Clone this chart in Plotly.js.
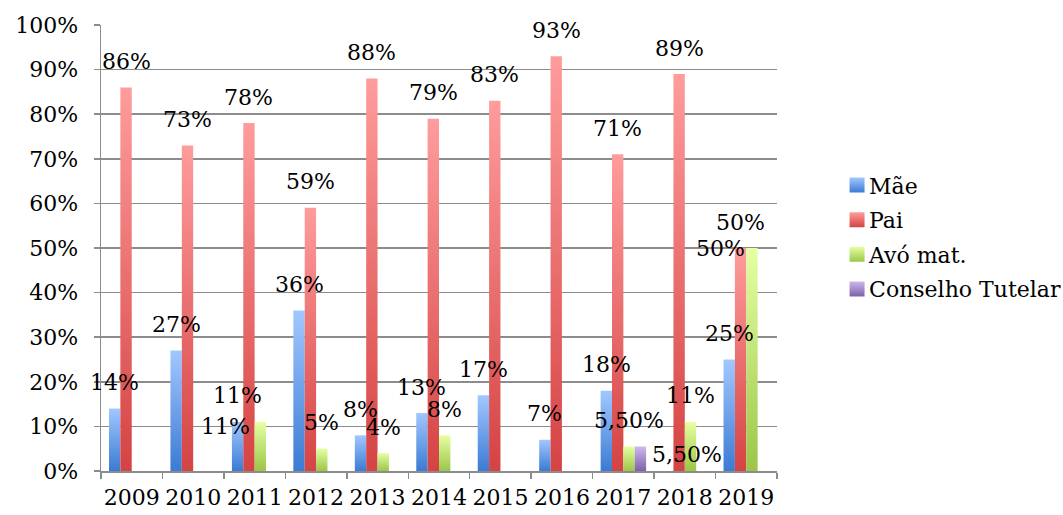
<!DOCTYPE html>
<html>
<head>
<meta charset="utf-8">
<script src="https://cdn.plot.ly/plotly-3.0.1.min.js"></script>
<style>
  html, body { margin: 0; padding: 0; background: #ffffff; }
  #chart { width: 1063px; height: 515px; }
</style>
</head>
<body>
<div id="chart"></div>
<script>
// ---- data ----
const years = ['2009','2010','2011','2012','2013','2014','2015','2016','2017','2018','2019'];
const mae = [14, 27, 11, 36, 8, 13, 17, 7, 18, null, 25];
const pai = [86, 73, 78, 59, 88, 79, 83, 93, 71, 89, 50];
const avoMat = [null, null, 11, 5, 4, 8, null, null, 5.5, 11, 50];
const conselhoTutelar = [null, null, null, null, null, null, null, null, 5.5, null, null];
const seriesNames = ['Mãe', 'Pai', 'Avó mat.', 'Conselho Tutelar'];
const seriesValues = [mae, pai, avoMat, conselhoTutelar];

// ---- styling ----
const FONT = 'DejaVu Serif, Liberation Serif, serif';
const FS = 22;
const baseColors = ['#6A9BE8', '#E46A6A', '#C2E07A', '#A68BCB'];
const gradStops = [
  ['#A2C7FF', '#3B7BD3'],
  ['#FF9C9C', '#D54343'],
  ['#E6FFA3', '#9BC648'],
  ['#CDB9EC', '#7D60A9']
];
const BARGAP = 0.26;
// label offsets in pixels [dx, dy] (default: centred, 26px above bar top)
const labelShift = {
  'Avó mat.|2011': [-35, -5],
  'Conselho Tutelar|2017': [47, -8],
  'Avó mat.|2019': [-31, 0]
};

function fmt(v) {
  return (Number.isInteger(v) ? String(v) : v.toFixed(2).replace('.', ',')) + '%';
}

const traces = seriesNames.map((name, s) => ({
  type: 'bar',
  name: name,
  legendgroup: 'g' + s,
  x: years,
  y: seriesValues[s],
  marker: { color: baseColors[s], line: { width: 0 } },
  hoverinfo: 'x+y+name'
}));

const annotations = [];
const slotW = (1 - BARGAP) / seriesNames.length;
seriesNames.forEach((name, s) => {
  seriesValues[s].forEach((v, i) => {
    if (v === null || v === undefined) return;
    const off = -(1 - BARGAP) / 2 + (s + 0.5) * slotW;
    const sh = labelShift[name + '|' + years[i]] || [0, 26];
    annotations.push({
      x: i + off, y: v, xref: 'x', yref: 'y',
      text: fmt(v), showarrow: false,
      xanchor: 'center', yanchor: 'middle',
      xshift: sh[0], yshift: sh[1],
      font: { family: FONT, size: FS, color: '#000000' }
    });
  });
});

const layout = {
  width: 1063, height: 515,
  margin: { l: 101, r: 286, t: 25, b: 44, autoexpand: false },
  paper_bgcolor: '#ffffff', plot_bgcolor: '#ffffff',
  barmode: 'group', bargap: BARGAP, bargroupgap: 0,
  font: { family: FONT, size: FS, color: '#000000' },
  showlegend: true,
  legend: {
    x: 1.077, xanchor: 'left', y: 0.524, yanchor: 'middle',
    font: { family: FONT, size: FS, color: '#000000' },
    bgcolor: 'rgba(0,0,0,0)', borderwidth: 0,
    traceorder: 'grouped', tracegroupgap: 3, itemclick: false
  },
  xaxis: {
    type: 'category',
    range: [-0.5, years.length - 0.5], autorange: false,
    showgrid: false, zeroline: false,
    showline: true, linecolor: '#8c8c8c', linewidth: 1.5,
    ticks: 'outside', tickson: 'boundaries', ticklen: 6, tickcolor: '#8c8c8c', tickwidth: 1.5,
    tickangle: 0,
    tickfont: { family: FONT, size: FS, color: '#000000' },
    ticklabelstandoff: 6,
    automargin: false,
    fixedrange: true
  },
  yaxis: {
    range: [0, 100], autorange: false, dtick: 10, tick0: 0, ticksuffix: '%',
    showgrid: true, gridcolor: '#8c8c8c', gridwidth: 1.5,
    zeroline: false,
    showline: true, linecolor: '#8c8c8c', linewidth: 1.5,
    ticks: 'outside', ticklen: 6, tickcolor: '#8c8c8c', tickwidth: 1.5,
    tickfont: { family: FONT, size: FS, color: '#000000' },
    ticklabelstandoff: 11,
    automargin: false,
    fixedrange: true
  },
  annotations: annotations
};

Plotly.newPlot('chart', traces, layout, { staticPlot: true, displayModeBar: false }).then(gd => {
  // vertical gradient fills, like the original spreadsheet chart
  const svg = gd.querySelector('.main-svg');
  let defs = svg.querySelector('defs');
  const NS = 'http://www.w3.org/2000/svg';
  if (!defs) { defs = document.createElementNS(NS, 'defs'); svg.insertBefore(defs, svg.firstChild); }
  gradStops.forEach((st, s) => {
    const g = document.createElementNS(NS, 'linearGradient');
    g.setAttribute('id', 'barGrad' + s);
    g.setAttribute('x1', '0'); g.setAttribute('y1', '0');
    g.setAttribute('x2', '0'); g.setAttribute('y2', '1');
    const a = document.createElementNS(NS, 'stop');
    a.setAttribute('offset', '0'); a.setAttribute('stop-color', st[0]);
    const b = document.createElementNS(NS, 'stop');
    b.setAttribute('offset', '1'); b.setAttribute('stop-color', st[1]);
    g.appendChild(a); g.appendChild(b); defs.appendChild(g);
  });
  gd.querySelectorAll('.barlayer .trace').forEach((tr, s) => {
    tr.querySelectorAll('path').forEach(p => { p.style.fill = 'url(#barGrad' + s + ')'; });
  });
  gd.querySelectorAll('.legend .traces').forEach((tr, s) => {
    tr.querySelectorAll('.legendpoints path').forEach(p => {
      p.setAttribute('d', 'M15.5,7.5H0.5V-7.5H15.5Z');
      p.style.fill = 'url(#barGrad' + s + ')';
    });
  });
});
</script>
</body>
</html>
